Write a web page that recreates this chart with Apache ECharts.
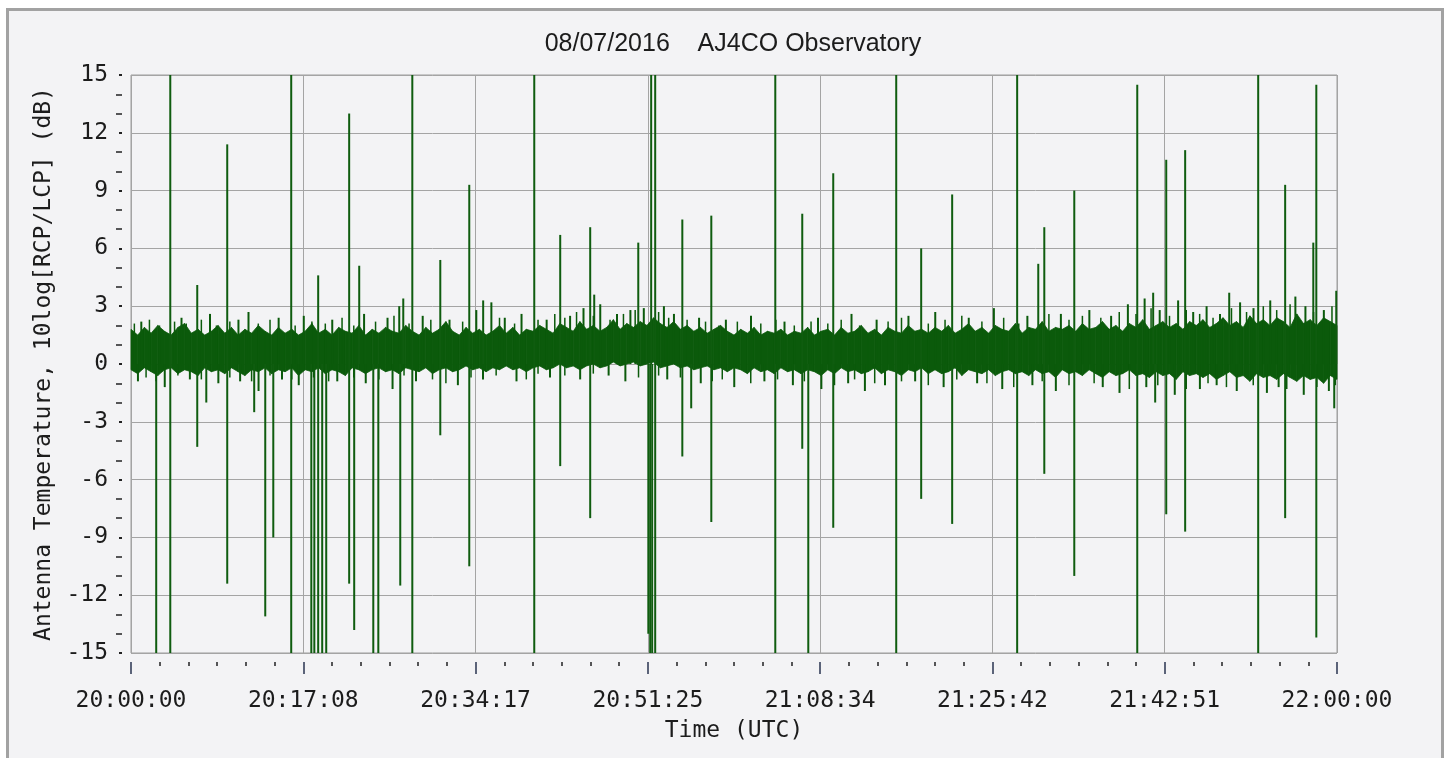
<!DOCTYPE html>
<html>
<head>
<meta charset="utf-8">
<script src="https://cdn.jsdelivr.net/npm/echarts/dist/echarts.min.js"></script>
<style>
html,body{margin:0;padding:0;background:#ffffff;width:1449px;height:758px;overflow:hidden}
#frame{position:absolute;left:6px;top:8px;width:1438px;height:770px;box-sizing:border-box;border:3px solid #a2a2a2;border-bottom:none;background:#f3f3f5}
#chart{position:absolute;left:0;top:0;width:1449px;height:758px}
</style>
</head>
<body>
<div id="frame"></div>
<div id="chart"></div>
<script>
// ---- data ----
const titleText = '08/07/2016    AJ4CO Observatory';
const yAxisTitle = 'Antenna Temperature, 10log[RCP/LCP] (dB)';
const xAxisTitle = 'Time (UTC)';
const xTickLabels = ['20:00:00','20:17:08','20:34:17','20:51:25','21:08:34','21:25:42','21:42:51','22:00:00'];
const spanSeconds = 7200;
const bandStep = 40; // seconds between envelope samples

// upper edge of the dense noise band (dB), one value every 40 s
const bandUpper = [
1.8,1.5,1.9,1.6,2.0,1.7,1.5,1.9,2.1,1.6, 1.8,1.5,1.7,2.0,1.6,1.9,1.5,1.8,1.6,2.0,
1.7,1.5,1.9,1.6,1.8,1.5,1.7,2.1,1.6,1.8, 1.5,1.9,1.7,1.6,2.0,1.5,1.8,1.6,1.9,1.7,
1.6,2.0,1.7,1.5,1.9,1.6,1.8,2.2,1.7,1.5, 1.9,1.6,1.8,1.5,1.7,2.0,1.6,1.9,1.5,1.8,
1.7,2.0,1.8,1.6,2.1,1.9,1.7,2.2,1.8,2.0, 1.7,1.9,2.3,1.8,2.1,1.9,2.2,2.0,2.4,2.1,
1.9,2.2,1.8,2.0,1.7,1.9,1.6,1.8,2.0,1.7, 1.5,1.8,1.6,1.9,1.5,1.7,1.6,1.8,1.5,1.7,
1.6,1.9,1.5,1.7,1.8,1.5,1.9,1.6,1.7,2.0, 1.6,1.8,1.5,1.9,1.7,1.6,2.0,1.7,1.8,1.6,
1.9,1.7,2.0,1.6,1.8,2.1,1.7,1.9,1.6,2.0, 1.8,1.7,2.1,1.6,1.9,1.8,2.2,1.7,1.9,1.8,
2.0,1.7,2.1,1.8,1.9,2.2,1.8,2.0,1.7,2.1, 1.9,2.3,1.8,2.0,2.2,1.9,2.1,1.8,2.2,2.0,
2.3,1.9,2.1,2.4,2.0,2.2,1.9,2.5,2.1,2.3, 2.0,2.4,2.2,1.9,2.6,2.1,2.3,2.0,2.4,2.2,2.0
];
// lower edge of the dense noise band (dB)
const bandLower = [
-0.3,-0.5,-0.2,-0.4,-0.6,-0.3,-0.2,-0.5,-0.3,-0.4, -0.6,-0.2,-0.4,-0.3,-0.5,-0.2,-0.4,-0.6,-0.3,-0.4,
-0.2,-0.5,-0.3,-0.4,-0.2,-0.6,-0.3,-0.4,-0.2,-0.5, -0.3,-0.4,-0.6,-0.2,-0.3,-0.5,-0.3,-0.2,-0.4,-0.3,
-0.5,-0.2,-0.3,-0.4,-0.2,-0.5,-0.3,-0.2,-0.4,-0.3, -0.1,-0.3,-0.2,-0.4,-0.2,-0.3,-0.1,-0.3,-0.2,-0.4,
-0.2,-0.1,-0.3,-0.2,0.0,-0.2,-0.1,-0.3,-0.1,0.0, -0.2,-0.1,0.1,-0.1,0.0,0.1,-0.1,0.0,0.1,-0.2,
-0.1,0.0,-0.2,-0.1,-0.3,-0.2,-0.1,-0.3,-0.2,-0.4, -0.2,-0.3,-0.5,-0.2,-0.4,-0.3,-0.5,-0.2,-0.4,-0.3,
-0.5,-0.3,-0.4,-0.6,-0.3,-0.5,-0.2,-0.4,-0.3,-0.5, -0.4,-0.2,-0.5,-0.3,-0.4,-0.6,-0.3,-0.4,-0.2,-0.5,
-0.3,-0.5,-0.4,-0.2,-0.6,-0.3,-0.4,-0.5,-0.3,-0.6, -0.4,-0.3,-0.5,-0.4,-0.6,-0.3,-0.5,-0.4,-0.7,-0.3,
-0.5,-0.4,-0.6,-0.3,-0.5,-0.7,-0.4,-0.6,-0.5,-0.3, -0.6,-0.5,-0.7,-0.4,-0.6,-0.5,-0.8,-0.4,-0.6,-0.5,
-0.7,-0.5,-0.8,-0.6,-0.4,-0.7,-0.6,-0.9,-0.5,-0.7, -0.6,-0.8,-0.5,-0.7,-0.9,-0.6,-0.8,-0.7,-1.0,-0.6,-0.8
];

// large interference spikes: [seconds after 20:00:00, dB]
const bigSpikes = [
[149,-15],[233,15],[233,-15],[394,4.1],[394,-4.3],[448,-2.0],[573,11.4],[573,-11.4],[734,-2.5],
[800,-13.1],[848,-9.0],[955,15],[955,-15],[1075,-15],[1093,-15],[1116,4.6],[1116,-15],[1140,-15],[1164,-15],
[1301,13.0],[1301,-11.4],[1331,-13.8],[1361,5.1],[1445,-15],[1475,-15],[1606,-11.5],[1624,3.4],
[1678,15],[1678,-15],[1845,5.4],[1845,-3.7],[2018,9.3],[2018,-10.5],[2101,3.3],[2406,15],[2406,-15],
[2561,6.7],[2561,-5.3],[2740,7.1],[2740,-8.0],[2764,3.6],[3027,6.3],[3087,-14.0],[3098,-15],[3104,15],
[3110,-15],[3128,15],[3128,-15],[3290,7.5],[3290,-4.8],[3343,-2.3],[3463,7.7],[3463,-8.2],
[3845,15],[3845,-15],[4006,7.8],[4006,-4.4],[4042,-15],[4191,9.9],[4191,-8.5],[4567,15],[4567,-15],
[4716,6.0],[4716,-7.0],[4901,8.8],[4901,-8.3],[5289,15],[5289,-15],[5415,5.2],[5451,7.1],[5451,-5.7],
[5630,9.0],[5630,-11.0],[6006,14.5],[6006,-15],[6101,3.7],[6113,-2.0],[6179,10.6],[6179,-7.8],
[6292,11.1],[6292,-8.7],[6555,3.7],[6728,15],[6728,-15],[6889,9.3],[6889,-8.0],[7057,6.3],
[7075,14.5],[7075,-14.2],[7182,-2.3],[7194,3.8]
];
// small fringe spikes just outside the band: [seconds, dB]
const smallSpikes = [
[60,2.2],[300,2.4],[470,2.6],[640,2.3],[700,2.7],[880,2.4],[1030,2.5],[1200,2.3],[1390,2.6],[1530,2.4],
[1600,3.0],[1740,2.5],[1900,2.3],[2060,2.8],[2150,3.2],[2230,2.4],[2330,2.6],[2480,2.3],[2620,2.5],[2700,2.9],
[2800,3.1],[2900,2.6],[2980,2.8],[3060,2.9],[3180,3.0],[3240,2.6],[3390,2.4],[3550,2.3],[3700,2.5],[3900,2.2],
[4100,2.4],[4300,2.6],[4450,2.3],[4640,2.5],[4800,2.7],[5000,2.4],[5150,2.9],[5350,2.5],[5550,2.6],[5720,2.8],
[5850,2.5],[5950,3.1],[6050,3.4],[6140,2.8],[6250,3.3],[6340,2.7],[6420,3.0],[6500,2.6],[6620,3.2],[6700,2.9],
[6800,3.3],[6950,3.5],[7010,3.0],[7120,2.8],
[40,-0.9],[200,-1.2],[350,-0.8],[520,-1.0],[650,-0.9],[760,-1.4],[900,-0.8],[1000,-1.1],[1230,-0.9],[1400,-1.0],
[1560,-1.3],[1700,-0.9],[1950,-1.1],[2100,-0.8],[2300,-0.9],[2500,-0.7],[2680,-0.8],[2850,-0.6],[2950,-0.9],[3200,-0.8],
[3400,-1.0],[3600,-1.2],[3780,-0.9],[3950,-1.1],[4120,-1.3],[4280,-1.0],[4380,-1.4],[4500,-1.1],[4680,-0.9],[4850,-1.2],
[5050,-1.0],[5200,-1.3],[5380,-1.1],[5520,-1.4],[5800,-1.2],[5900,-1.5],[6060,-1.2],[6230,-1.6],[6380,-1.3],[6480,-1.1],
[6600,-1.4],[6780,-1.5],[6850,-1.2],[7000,-1.6],[7150,-1.4]
];
// finer noise spikes on the band edges: [seconds, dB]
const edgeSpikes = [
[20,2.1],[110,2.3],[170,2.0],[260,2.2],[330,2.1],[420,2.3],[510,2.0],[590,2.2],[760,2.1],[830,2.3],
[980,2.0],[1080,2.2],[1160,2.1],[1260,2.4],[1330,2.0],[1460,2.2],[1570,2.5],[1660,2.1],[1790,2.3],[1870,2.0],
[1980,2.2],[2200,2.4],[2290,2.1],[2430,2.3],[2530,2.6],[2590,2.4],[2660,2.7],[2760,2.5],[2860,2.3],[2940,2.6],
[3010,2.8],[3150,2.7],[3210,2.4],[3320,2.3],[3430,2.2],[3510,2.0],[3620,2.2],[3760,2.1],[3850,2.3],[3960,2.0],
[4060,2.2],[4160,2.1],[4240,2.3],[4350,2.0],[4520,2.2],[4600,2.4],[4760,2.1],[4860,2.3],[4960,2.5],[5080,2.2],
[5210,2.4],[5300,2.1],[5480,2.6],[5600,2.3],[5680,2.5],[5790,2.4],[5900,2.7],[6000,2.6],[6090,2.9],[6200,2.5],
[6300,2.8],[6380,2.6],[6460,2.4],[6570,2.9],[6660,2.7],[6760,3.0],[6840,2.8],[6920,3.1],[7060,2.7],[7170,3.0],
[90,-0.7],[150,-0.9],[280,-0.6],[420,-0.8],[590,-0.7],[720,-0.9],[830,-0.6],[960,-0.8],[1090,-0.7],[1180,-0.9],
[1330,-0.7],[1480,-0.8],[1630,-0.6],[1800,-0.8],[1880,-1.0],[2030,-0.7],[2180,-0.6],[2360,-0.8],[2430,-0.5],[2590,-0.6],
[2760,-0.5],[3030,-0.7],[3150,-0.6],[3280,-0.7],[3470,-0.9],[3530,-0.8],[3700,-1.0],[3860,-0.8],[4020,-0.9],[4200,-1.1],
[4320,-0.8],[4440,-1.0],[4600,-0.9],[4760,-1.1],[4930,-0.8],[5110,-1.0],[5270,-1.2],[5440,-0.9],[5600,-1.1],[5750,-1.0],
[5960,-1.3],[6130,-1.1],[6300,-1.3],[6430,-1.0],[6540,-1.2],[6700,-1.1],[6900,-1.3],[7080,-1.2],[7190,-1.1]
];

// ---- chart ----
const GREEN = '#0b5a0b';
const SPIKE = '#0f5c0f';
const MONO = '"DejaVu Sans Mono", monospace';
const xInterval = spanSeconds / (xTickLabels.length - 1);

// band segments: [t0, upper0, lower0, t1, upper1, lower1]
const bandSegments = [];
for (let i = 0; i < bandUpper.length - 1; i++) {
  bandSegments.push([i * bandStep, bandUpper[i], bandLower[i],
                     (i + 1) * bandStep, bandUpper[i + 1], bandLower[i + 1]]);
}

function renderBand(params, api) {
  const a = api.coord([api.value(0), api.value(1)]);
  const b = api.coord([api.value(3), api.value(4)]);
  const c = api.coord([api.value(3), api.value(5)]);
  const d = api.coord([api.value(0), api.value(2)]);
  return {
    type: 'polygon',
    shape: {points: [a, b, c, d]},
    style: {fill: GREEN, stroke: GREEN, lineWidth: 0.8}
  };
}

const chart = echarts.init(document.getElementById('chart'), null, {renderer: 'canvas'});
chart.setOption({
  animation: false,
  backgroundColor: 'transparent',
  graphic: [{
    type: 'text', x: 733, y: 44,
    style: {text: titleText, textAlign: 'center', textVerticalAlign: 'middle',
            font: '25px "Liberation Sans", Arial, sans-serif', fill: '#1c1c1c'}
  }],
  grid: {left: 131, top: 75, width: 1206, height: 578, show: true,
         borderColor: '#9c9c9c', borderWidth: 1, backgroundColor: 'transparent'},
  xAxis: {
    type: 'value', min: 0, max: spanSeconds, interval: xInterval, offset: 9,
    name: xAxisTitle, nameLocation: 'middle', nameGap: 58,
    nameTextStyle: {fontFamily: MONO, fontSize: 23, color: '#1c1c1c'},
    axisLine: {show: true, onZero: false, lineStyle: {opacity: 0}},
    axisTick: {show: true, inside: false, length: 12, lineStyle: {color: '#2a3550', width: 1.5}},
    minorTick: {show: true, splitNumber: 6, length: 4, lineStyle: {color: '#222', width: 1.5}},
    axisLabel: {margin: 28, fontFamily: MONO, fontSize: 23, color: '#1c1c1c',
      formatter: v => xTickLabels[Math.round(v / xInterval)]},
    splitLine: {show: true, lineStyle: {color: '#a4a4a4', width: 1}},
    minorSplitLine: {show: false}
  },
  yAxis: {
    type: 'value', min: -15, max: 15, interval: 3, offset: 9,
    name: yAxisTitle, nameLocation: 'middle', nameGap: 56, nameRotate: 90,
    nameTextStyle: {fontFamily: MONO, fontSize: 23, color: '#1c1c1c'},
    axisLine: {show: true, onZero: false, lineStyle: {opacity: 0}},
    axisTick: {show: true, inside: false, length: 3, lineStyle: {color: '#222', width: 2}},
    minorTick: {show: true, splitNumber: 3, length: 6, lineStyle: {color: '#222', width: 1.5}},
    axisLabel: {margin: 14, fontFamily: MONO, fontSize: 23, color: '#1c1c1c'},
    splitLine: {show: true, lineStyle: {color: '#a4a4a4', width: 1}}
  },
  series: [
    {type: 'custom', name: 'band', data: bandSegments, renderItem: renderBand,
     encode: {x: [0, 3], y: [1, 2, 4, 5]}, silent: true, z: 3},
    {type: 'bar', name: 'spikes', data: bigSpikes, barWidth: 2, barGap: '-100%',
     itemStyle: {color: SPIKE}, silent: true, z: 4},
    {type: 'bar', name: 'fringe', data: smallSpikes, barWidth: 2, barGap: '-100%',
     itemStyle: {color: GREEN}, silent: true, z: 4},
    {type: 'bar', name: 'edge', data: edgeSpikes, barWidth: 1.5, barGap: '-100%',
     itemStyle: {color: GREEN}, silent: true, z: 4}
  ]
});
</script>
</body>
</html>
